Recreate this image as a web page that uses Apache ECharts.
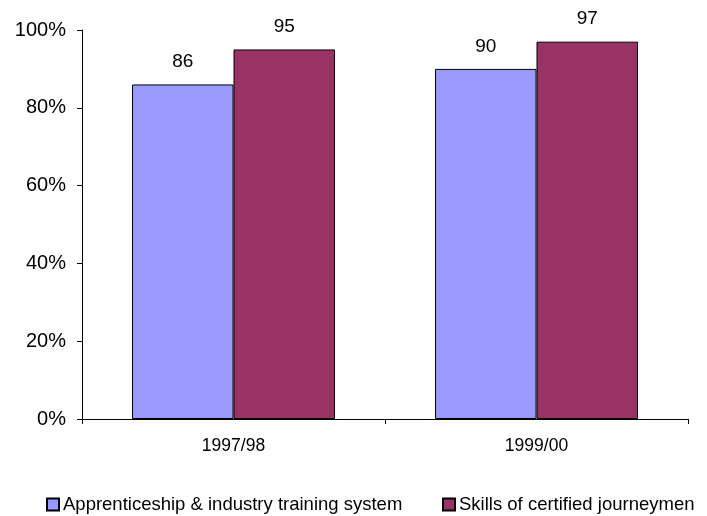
<!DOCTYPE html>
<html>
<head>
<meta charset="utf-8">
<script src="https://cdn.jsdelivr.net/npm/echarts@6/dist/echarts.min.js"></script>
<style>
  html, body { margin: 0; padding: 0; background: #fff; }
  #chart { width: 707px; height: 516px; }
</style>
</head>
<body>
<div id="chart"></div>
<script>
// Survey periods and satisfaction shares (percent)
const categories = ['1997/98', '1999/00'];
const seriesNames = ['Apprenticeship & industry training system', 'Skills of certified journeymen'];
const apprenticeship = [86, 90];
const journeymen = [95, 97];
const yTicks = [0, 20, 40, 60, 80, 100];

const font = 'Arial, "Liberation Sans", sans-serif';
const chart = echarts.init(document.getElementById('chart'), null, { renderer: 'canvas' });

const barLabel = {
  show: true,
  position: 'top',
  distance: 13,
  color: '#000',
  fontSize: 19,
  fontFamily: font
};

// One legend block per series so each entry sits at its own fixed spot
function legendAt(left, name) {
  return {
    left: left,
    top: 495,
    padding: 0,
    itemWidth: 12,
    itemHeight: 12,
    icon: 'rect',
    textStyle: { color: '#000', fontSize: 18.5, fontFamily: font, padding: [0, 0, 0, -1] },
    data: [name]
  };
}

chart.setOption({
  animation: false,
  backgroundColor: '#ffffff',
  grid: { left: 82, right: 19, top: 30, bottom: 97, containLabel: false },
  legend: [legendAt(46, seriesNames[0]), legendAt(442, seriesNames[1])],
  xAxis: {
    type: 'category',
    data: categories,
    axisLine: { lineStyle: { color: '#000', width: 1 } },
    axisTick: { show: true, length: 5, lineStyle: { color: '#000' } },
    axisLabel: { color: '#000', fontSize: 17.5, fontFamily: font, margin: 18 },
    splitLine: { show: false }
  },
  yAxis: {
    type: 'value',
    min: yTicks[0],
    max: yTicks[yTicks.length - 1],
    interval: yTicks[1] - yTicks[0],
    axisLine: { show: true, lineStyle: { color: '#000', width: 1 } },
    axisTick: { show: true, length: 5, inside: false, lineStyle: { color: '#000' } },
    axisLabel: { color: '#000', fontSize: 20, fontFamily: font, margin: 16, formatter: '{value}%' },
    splitLine: { show: false }
  },
  series: [
    {
      name: seriesNames[0],
      type: 'bar',
      data: apprenticeship,
      barGap: '0%',
      barCategoryGap: '33%',
      itemStyle: { color: '#9999FF', borderColor: '#000', borderWidth: 1 },
      label: barLabel
    },
    {
      name: seriesNames[1],
      type: 'bar',
      data: journeymen,
      barGap: '0%',
      barCategoryGap: '33%',
      itemStyle: { color: '#993366', borderColor: '#000', borderWidth: 1 },
      label: barLabel
    }
  ]
});
</script>
</body>
</html>
